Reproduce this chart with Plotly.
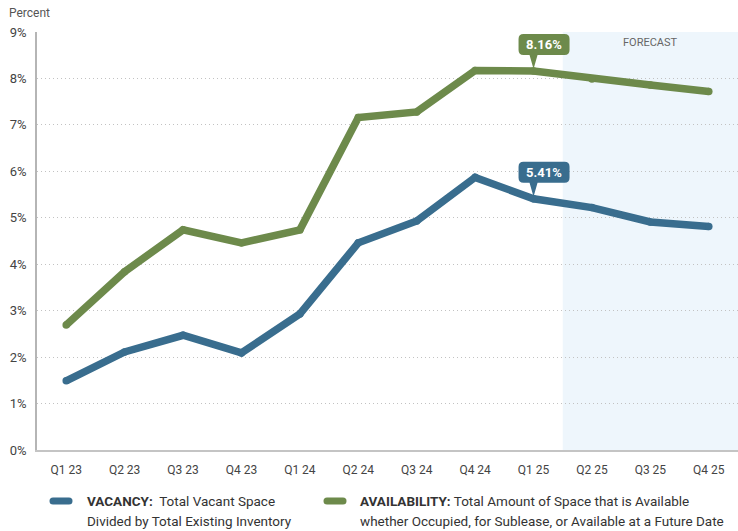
import plotly.graph_objects as go

quarters = ["Q1 23", "Q2 23", "Q3 23", "Q4 23", "Q1 24", "Q2 24", "Q3 24", "Q4 24",
            "Q1 25", "Q2 25", "Q3 25", "Q4 25"]
vacancy = [1.49, 2.11, 2.47, 2.09, 2.93, 4.46, 4.93, 5.87, 5.41, 5.22, 4.91, 4.81]
availability = [2.69, 3.84, 4.74, 4.46, 4.74, 7.16, 7.28, 8.17, 8.16, 7.99, 7.86, 7.72]
callout_index = 8
forecast_start = 8.5
legend_lines = [
    ("<b>VACANCY:</b>  Total Vacant Space", "Divided by Total Existing Inventory"),
    ("<b>AVAILABILITY:</b> Total Amount of Space that is Available",
     "whether Occupied, for Sublease, or Available at a Future Date"),
]

BLUE = "#396d8e"
GREEN = "#6d8a4b"
FONT = "Roboto, Arial, sans-serif"

W, H = 738, 531
ML, MR, MT, MB = 37, 0, 32, 81
PW, PH = W - ML - MR, H - MT - MB


def px_x(px):
    return (px - ML) / PW


def px_y(py):
    return (H - MB - py) / PH


fig = go.Figure()
fig.add_trace(go.Scatter(x=list(range(len(quarters))), y=vacancy, mode="lines+markers",
                         line=dict(color=BLUE, width=7.5), marker=dict(color=BLUE, size=7.5),
                         hoverinfo="skip", showlegend=False))
fig.add_trace(go.Scatter(x=list(range(len(quarters))), y=availability, mode="lines+markers",
                         line=dict(color=GREEN, width=7.5), marker=dict(color=GREEN, size=7.5),
                         hoverinfo="skip", showlegend=False))

shapes = [dict(type="rect", xref="x", yref="paper", x0=forecast_start,
               x1=len(quarters) - 0.5, y0=0, y1=1,
               fillcolor="#eef6fc", line=dict(width=0), layer="below")]

callout_path = ("M -15,21 Q -15,16 -10,16 L -4,16 L 0,2 L 4,16 L 31,16 Q 36,16 36,21 "
                "L 36,32 Q 36,37 31,37 L -10,37 Q -15,37 -15,32 Z")
annotations = []
for series, color in [(availability, GREEN), (vacancy, BLUE)]:
    shapes.append(dict(type="path", xref="x", yref="y", xsizemode="pixel", ysizemode="pixel",
                       xanchor=callout_index, yanchor=series[callout_index], path=callout_path,
                       fillcolor=color, line=dict(width=0), layer="above"))
    annotations.append(dict(x=callout_index, y=series[callout_index], xref="x", yref="y",
                            text="<b>%.2f%%</b>" % series[callout_index], showarrow=False,
                            xshift=10.5, yshift=26.5,
                            font=dict(family=FONT, size=13, color="white")))

annotations.append(dict(x=10, y=px_y(42), xref="x", yref="paper", yanchor="middle",
                        text="FORECAST", showarrow=False,
                        font=dict(family=FONT, size=11, color="#666")))
annotations.append(dict(x=px_x(7), y=px_y(13), xref="paper", yref="paper", text="Percent",
                        showarrow=False, xanchor="left", yanchor="middle",
                        font=dict(family=FONT, size=12, color="#555")))

pill = "M -8,3.5 L 8,3.5 Q 11.5,3.5 11.5,0 Q 11.5,-3.5 8,-3.5 L -8,-3.5 Q -11.5,-3.5 -11.5,0 Q -11.5,3.5 -8,3.5 Z"
legend_pos = [(BLUE, 61, 85), (GREEN, 335, 358)]
for (color, pill_x, text_x), (line1, line2) in zip(legend_pos, legend_lines):
    shapes.append(dict(type="path", xref="paper", yref="paper", xsizemode="pixel",
                       ysizemode="pixel", xanchor=px_x(pill_x), yanchor=px_y(501), path=pill,
                       fillcolor=color, line=dict(width=0)))
    for text, ty in [(line1, 501), (line2, 521)]:
        annotations.append(dict(x=px_x(text_x), y=px_y(ty), xref="paper", yref="paper",
                                xanchor="left", yanchor="middle", align="left",
                                showarrow=False, text=text,
                                font=dict(family=FONT, size=13.5, color="#333")))

fig.update_layout(
    width=W, height=H,
    margin=dict(l=ML, r=MR, t=MT, b=MB),
    paper_bgcolor="white", plot_bgcolor="white",
    shapes=shapes, annotations=annotations,
    xaxis=dict(tickmode="array", tickvals=list(range(len(quarters))), ticktext=quarters,
               range=[-0.5, len(quarters) - 0.5], showgrid=False, zeroline=False,
               showline=True, linecolor="#c4c4c4", linewidth=1.5, ticks="",
               ticklabelstandoff=8,
               tickfont=dict(family=FONT, size=12, color="#444"), fixedrange=True),
    yaxis=dict(range=[0, 9], dtick=1, ticksuffix="%", showgrid=True, gridcolor="#c2c2c2",
               griddash="1px,3px", gridwidth=1, zeroline=False, showline=True,
               linecolor="#b5b5b5", linewidth=1.5, ticks="", ticklabelstandoff=6,
               tickfont=dict(family=FONT, size=13, color="#444"), fixedrange=True),
)

fig.write_html("out.html", post_script="document.body.style.margin='0';",
               config={"displayModeBar": False})
